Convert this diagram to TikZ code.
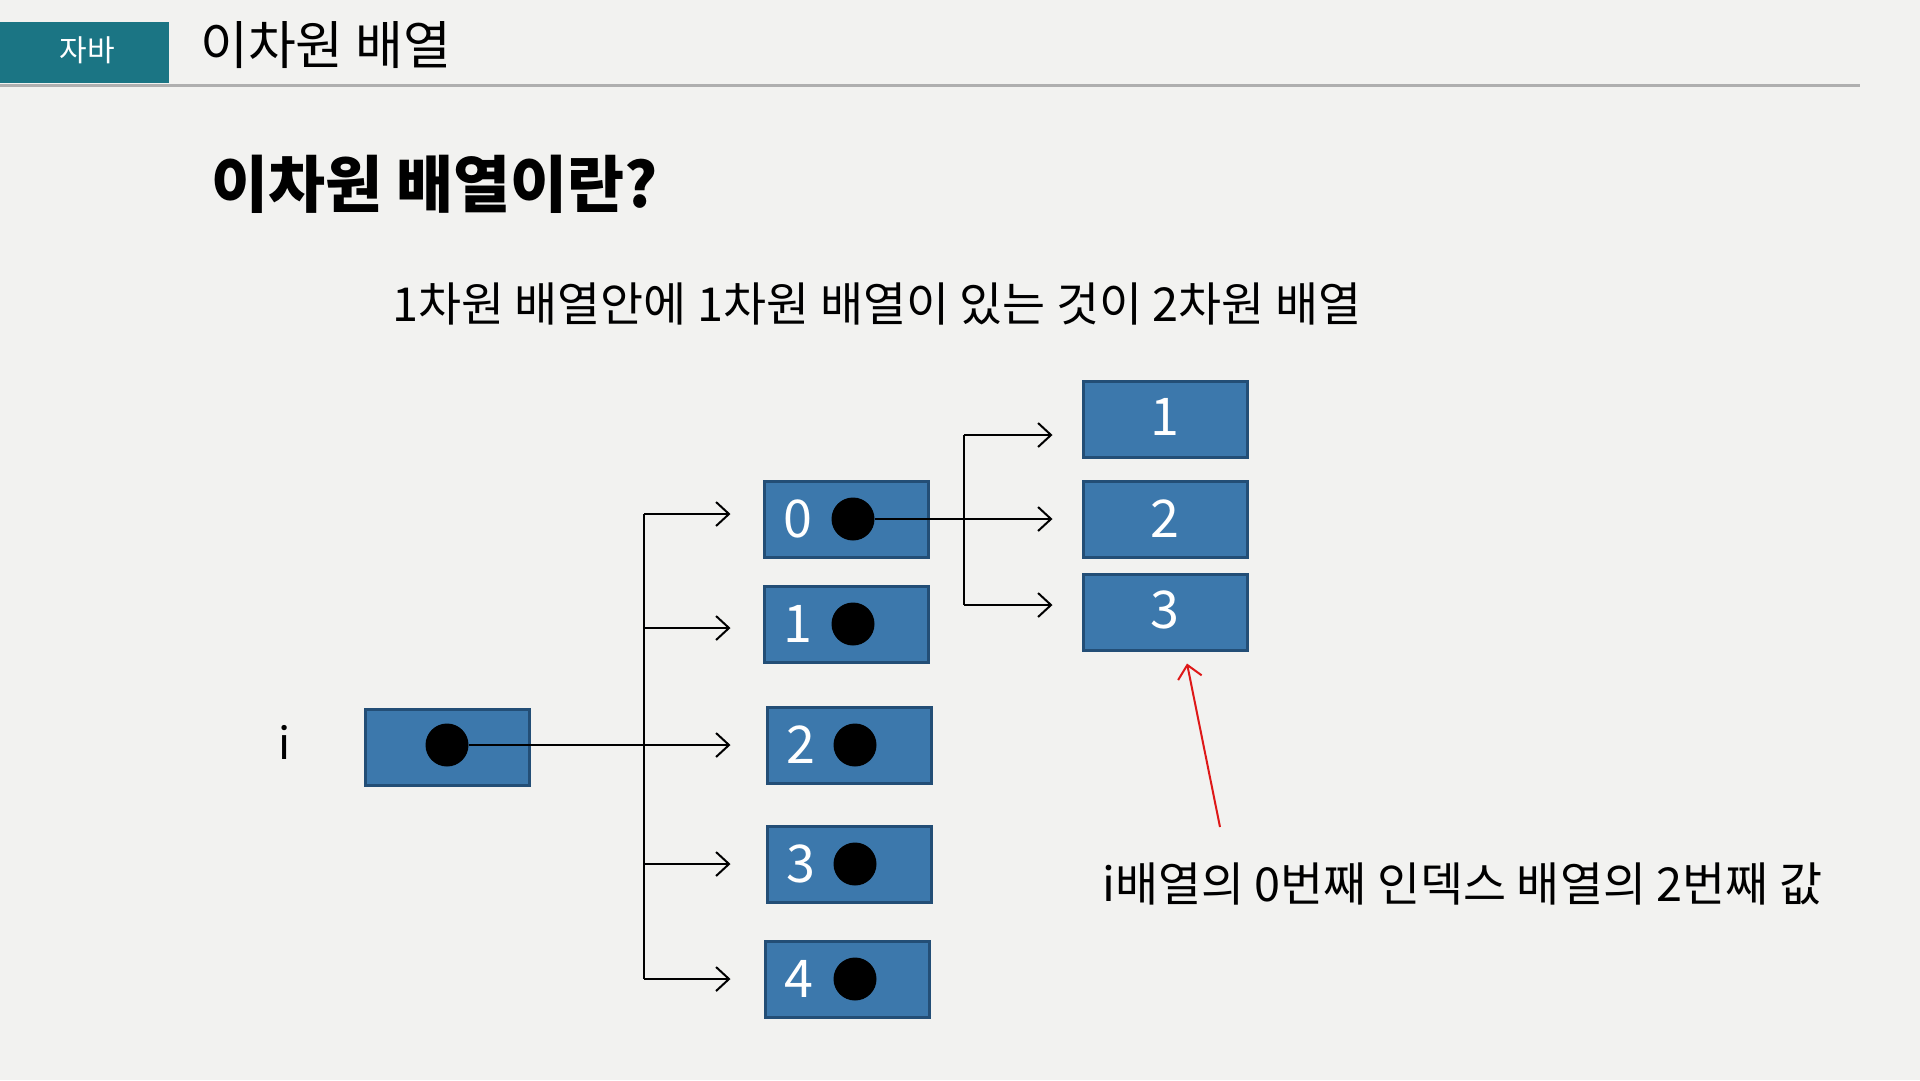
\documentclass[tikz,border=0pt]{standalone}
\usepackage{fontspec}
\setmainfont{Noto Sans CJK KR}
\usetikzlibrary{arrows.meta}
\definecolor{pagebg}{RGB}{242,242,240}
\definecolor{tabteal}{RGB}{27,117,132}
\definecolor{cellfill}{RGB}{60,120,172}
\definecolor{cellline}{RGB}{35,78,118}
\definecolor{rulegray}{RGB}{175,175,175}
\definecolor{notered}{RGB}{222,24,24}
\tikzset{
  cell/.style={draw=cellline, fill=cellfill, line width=3pt, minimum width=164pt, minimum height=76pt, inner sep=0pt},
  ptr/.style={circle, fill=black, minimum size=43pt, inner sep=0pt},
  num/.style={text=white, inner sep=0pt, font=\fontsize{52}{52}\selectfont},
  link/.style={line width=2pt, ->},
  >={Straight Barb[length=13pt, width=24pt]}
}
\begin{document}
\begin{tikzpicture}[x=1pt, y=-1pt]
\fill[pagebg] (0,0) rectangle (1920,1080);
\useasboundingbox (0,0) rectangle (1920,1080);
\draw[rulegray, line width=3pt] (0,85) -- (1860,85);
\node[fill=tabteal, minimum width=169pt, minimum height=61pt, inner sep=0pt, anchor=north west] (tab) at (0,22) {};
\node[text=white, font=\fontsize{30}{30}\selectfont] (tabtext) at (87,50) {자바};
\node[anchor=west, inner sep=0pt, font=\fontsize{52}{52}\selectfont] (title) at (200,45) {이차원 배열};
\node[anchor=west, inner sep=0pt, font=\fontsize{62}{62}\selectfont\bfseries] (head) at (211,184) {이차원 배열이란?};
\node[anchor=west, inner sep=0pt, font=\fontsize{46.8}{47}\selectfont] (sub) at (392,304) {1차원 배열안에 1차원 배열이 있는 것이 2차원 배열};
\node[font=\fontsize{44}{44}\selectfont] (ilabel) at (285,742) {i};
\node[cell] (ibox) at (447,747) {};
\node[ptr] (idot) at (447,745) {};
\node[cell] (a0) at (846,519) {};
\node[cell] (a1) at (846,624) {};
\node[cell] (a2) at (849,745) {};
\node[cell] (a3) at (849,864) {};
\node[cell] (a4) at (847,979) {};
\node[num] (n0) at (798,519) {0};
\node[num] (n1) at (798,624) {1};
\node[num] (n2) at (801,745) {2};
\node[num] (n3) at (801,864) {3};
\node[num] (n4) at (799,979) {4};
\node[ptr] (d0) at (853,519) {};
\node[ptr] (d1) at (853,624) {};
\node[ptr] (d2) at (855,745) {};
\node[ptr] (d3) at (855,864) {};
\node[ptr] (d4) at (855,979) {};
\node[cell] (b1) at (1165,419) {};
\node[cell] (b2) at (1165,519) {};
\node[cell] (b3) at (1165,612) {};
\node[num] (m1) at (1165,417) {1};
\node[num] (m2) at (1165,519) {2};
\node[num] (m3) at (1165,610) {3};
\coordinate (split) at (644,745);
\draw[line width=2pt] ([yshift=5pt]split |- a0) -- (split |- a4);
\draw[link] (idot.east) -- ([xshift=-35pt]a2.west);
\draw[link] ([yshift=5pt]split |- a0) -- ([xshift=-32pt, yshift=5pt]a0.west);
\draw[link] ([yshift=-4pt]split |- a1) -- ([xshift=-32pt, yshift=-4pt]a1.west);
\draw[link] (split |- a3) -- ([xshift=-35pt]a3.west);
\draw[link] (split |- a4) -- ([xshift=-33pt]a4.west);
\coordinate (split2) at (964,519);
\draw[line width=2pt] ([yshift=-16pt]split2 |- b1) -- ([yshift=7pt]split2 |- b3);
\draw[link] (d0.east) -- ([xshift=-29pt]b2.west);
\draw[link] ([yshift=-16pt]split2 |- b1) -- ([xshift=-29pt, yshift=-16pt]b1.west);
\draw[link] ([yshift=7pt]split2 |- b3) -- ([xshift=-29pt, yshift=7pt]b3.west);
\node[anchor=west, inner sep=0pt, font=\fontsize{46.8}{47}\selectfont] (note) at (1102,884) {i배열의 0번째 인덱스 배열의 2번째 값};
\coordinate (notetail) at (1220,827);
\draw[link, notered] (notetail) -- ([xshift=22pt, yshift=-12pt]b3.south);
\end{tikzpicture}
\end{document}
